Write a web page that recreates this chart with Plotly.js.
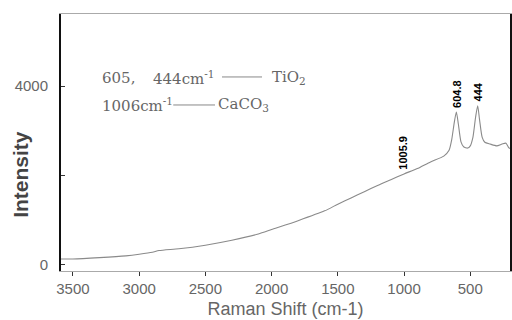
<!DOCTYPE html>
<html><head><meta charset="utf-8">
<script src="https://cdn.plot.ly/plotly-3.0.1.min.js"></script>
<style>html,body{margin:0;padding:0;background:#fff}#c{width:512px;height:320px}</style>
</head><body><div id="c"></div>
<script>
const ramanShift = [3590,3500,3300,3100,3000,2900,2850,2700,2500,2300,2100,2000,1800,1600,1500,1400,1300,1200,1100,1000,900,800,700,660,640,620,605,590,570,550,520,500,480,460,444,430,410,390,350,300,260,230,210,200];
const intensity  = [120,120,150,190,225,270,310,350,430,540,680,780,980,1200,1350,1490,1630,1770,1900,2030,2150,2300,2430,2560,2800,3200,3420,3150,2750,2640,2610,2660,2850,3300,3560,3250,2850,2740,2700,2660,2700,2720,2620,2600];
const peakLabels = ['1005.9','604.8','444'];
const peakPos = [1006,605,444];
const peakVal = [2040,3430,3570];
const yTickVals = [0,2000,4000];
const yTickText = ['0','','4000'];
const xTickVals = [3500,3000,2500,2000,1500,1000,500];
const noteTexts = ['605,','444cm<sup>-1</sup>','TiO<sub>2</sub>','1006cm<sup>-1</sup>','CaCO<sub>3</sub>'];

const serif = {family:'DejaVu Serif', size:15, color:'#666'};
const ann = peakLabels.map((t,i)=>({
  x: peakPos[i], y: peakVal[i], xref:'x', yref:'y', text:'<b>'+t+'</b>',
  showarrow:false, textangle:-90, yanchor:'bottom', xanchor:'center', yshift:2,
  font:{family:'Liberation Sans, Arial', size:11, color:'#000'}
}));
const noteX = [0.087, 0.200, 0.466, 0.087, 0.345];
const noteY = [0.751, 0.751, 0.751, 0.646, 0.646];
noteTexts.forEach((t,i)=>ann.push({xref:'paper', yref:'paper', x:noteX[i], y:noteY[i],
  xanchor:'left', yanchor:'middle', showarrow:false, text:t, font:serif}));
ann.push({xref:'paper', yref:'paper', x:-0.092, y:0.377, xanchor:'center', yanchor:'middle', showarrow:false,
  textangle:-90, text:'<b>Intensity</b>', font:{family:'Liberation Sans, Arial', size:21, color:'#444'}});

Plotly.newPlot('c', [{
  x: ramanShift, y: intensity, type:'scatter', mode:'lines',
  line:{color:'#8a8a8a', width:1.1, shape:'spline', smoothing:0.6}, hoverinfo:'none'
}], {
  width:512, height:320,
  margin:{l:61, r:2, t:14, b:49},
  paper_bgcolor:'#fff', plot_bgcolor:'#fff',
  showlegend:false,
  shapes:[
    {type:'line', xref:'paper', yref:'paper', x0:0.3586, x1:0.4477, y0:0.755, y1:0.755, line:{color:'#888', width:1}},
    {type:'line', xref:'paper', yref:'paper', x0:0.250, x1:0.343, y0:0.646, y1:0.646, line:{color:'#888', width:1}}
  ],
  xaxis:{range:[3590,200], tickvals:xTickVals, ticks:'outside', ticklen:4, tickcolor:'#333',
    showgrid:false, zeroline:false, showline:true, linecolor:'#aaa', linewidth:1, mirror:true,
    tickfont:{family:'Liberation Sans, Arial', size:15, color:'#666'},
    title:{text:'Raman Shift (cm-1)', font:{family:'Liberation Sans, Arial', size:18, color:'#666'}, standoff:6}},
  yaxis:{range:[-150,5620], tickvals:yTickVals, ticktext:yTickText, ticks:'inside', ticklen:4, tickcolor:'#333',
    ticklabelstandoff:8,
    showgrid:false, zeroline:false, showline:true, linecolor:'#111', linewidth:2, mirror:true,
    tickfont:{family:'Liberation Sans, Arial', size:15, color:'#666'}},
  annotations: ann
}, {staticPlot:true});
</script></body></html>
